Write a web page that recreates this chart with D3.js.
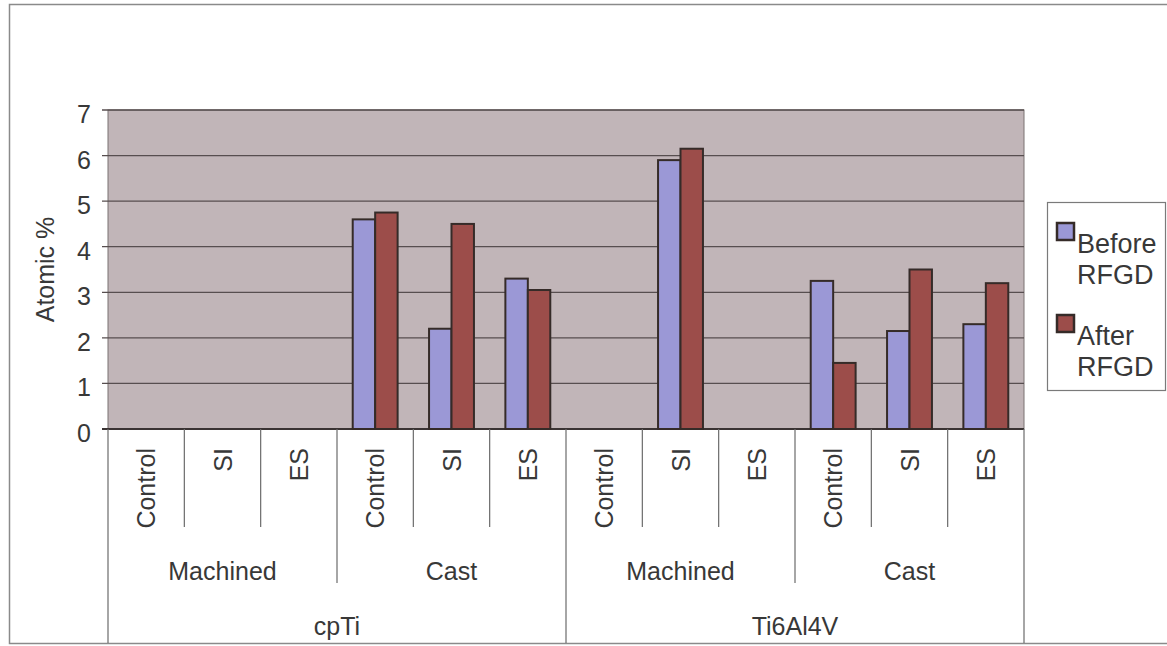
<!doctype html>
<html lang="en">
<head>
	<meta charset="UTF-8">
	<title>Atomic % before and after RFGD</title>
	<style>
		html, body {
			margin: 0;
			padding: 0;
			background: #fff;
		}

		svg text {
			font-family: "Liberation Sans", Arial, sans-serif;
			fill: #383838;
		}

		.tick__label,
		.cat__label,
		.group__label,
		.axis__title {
			font-size: 25px;
		}

		.legend__label {
			font-size: 27px;
		}
	</style>
</head>
<body>
	<script src="https://cdnjs.cloudflare.com/ajax/libs/d3/7.8.5/d3.min.js"></script>
	<script>
		// categories, outermost level first
		var materials = ['cpTi', 'Ti6Al4V'];
		var surfaces = ['Machined', 'Cast'];
		var treatments = ['Control', 'SI', 'ES'];

		// series values, one per treatment (null = no bar)
		var beforeValues = [null, null, null, 4.6, 2.2, 3.3, null, 5.9, null, 3.25, 2.15, 2.3];
		var afterValues = [null, null, null, 4.75, 4.5, 3.05, null, 6.15, null, 1.45, 3.5, 3.2];

		var seriesNames = ['Before RFGD', 'After RFGD'];
		var yTicks = [0, 1, 2, 3, 4, 5, 6, 7];

		var w = 1167,
			h = 646,
			plotLeft = 108,
			plotRight = 1024,
			plotTop = 110,
			plotBottom = 429;

		var colors = ['#9b98d6', '#9c4d4a'];

		var svg = d3.select('body')
			.append('svg')
			.attr('width', w)
			.attr('height', h);

		var categories = [];
		materials.forEach(function(m) {
			surfaces.forEach(function(s) {
				treatments.forEach(function(t) {
					categories.push({material: m, surface: s, treatment: t});
				});
			});
		});

		var xScale = d3.scaleBand()
			.domain(d3.range(categories.length))
			.range([plotLeft, plotRight]);

		var seriesScale = d3.scaleBand()
			.domain(d3.range(seriesNames.length))
			.range([0, xScale.bandwidth()])
			.paddingInner(0)
			.paddingOuter(0.7);

		var yScale = d3.scaleLinear()
			.domain([0, 7])
			.range([plotBottom, plotTop]);


		/**
		* outer frame of the chart
		*/
		var drawFrame = function() {
			svg.append('rect')
				.attr('x', 9.5)
				.attr('y', 4.5)
				.attr('width', w)
				.attr('height', 639)
				.attr('fill', 'none')
				.attr('stroke', '#8a8a8a')
				.attr('stroke-width', 1.5);
		};


		/**
		* plot area, gridlines and y axis
		*/
		var drawPlot = function() {
			svg.append('rect')
				.attr('x', plotLeft)
				.attr('y', plotTop)
				.attr('width', plotRight - plotLeft)
				.attr('height', plotBottom - plotTop)
				.attr('fill', '#c1b5b8')
				.attr('stroke', '#7a7272')
				.attr('stroke-width', 1);

			svg.selectAll('.grid')
				.data(yTicks)
				.enter()
				.append('line')
				.attr('class', 'grid')
				.attr('x1', plotLeft - 6)
				.attr('x2', plotRight)
				.attr('y1', function(d) { return yScale(d); })
				.attr('y2', function(d) { return yScale(d); })
				.attr('stroke', function(d) { return d === 0 ? '#3a3333' : '#574e4f'; })
				.attr('stroke-width', function(d) { return d === 0 ? 1.8 : 1.3; });

			svg.selectAll('.tick__label')
				.data(yTicks)
				.enter()
				.append('text')
				.attr('class', 'tick__label')
				.attr('x', 91)
				.attr('y', function(d) { return yScale(d) + 13; })
				.attr('text-anchor', 'end')
				.text(function(d) { return d; });

			svg.append('text')
				.attr('class', 'axis__title')
				.attr('transform', 'translate(54,' + ((plotTop + plotBottom) / 2) + ') rotate(-90)')
				.attr('text-anchor', 'middle')
				.text('Atomic %');
		};


		/**
		* bars for both series
		*/
		var drawBars = function() {
			var series = [beforeValues, afterValues];
			series.forEach(function(values, s) {
				svg.selectAll('.bar-' + s)
					.data(values.map(function(v, i) { return {v: v, i: i}; })
						.filter(function(d) { return d.v !== null; }))
					.enter()
					.append('rect')
					.attr('class', 'bar-' + s)
					.attr('x', function(d) { return xScale(d.i) + seriesScale(s); })
					.attr('y', function(d) { return yScale(d.v); })
					.attr('width', seriesScale.bandwidth())
					.attr('height', function(d) { return yScale(0) - yScale(d.v); })
					.attr('fill', colors[s])
					.attr('stroke', '#352b28')
					.attr('stroke-width', 2);
			});
		};


		/**
		* three level category axis
		*/
		var drawCategoryAxis = function() {
			var lineBottoms = [527, 583, 643];
			var step = xScale.step();

			// dividers: left edge of each category, length by level of the boundary
			var bounds = d3.range(categories.length + 1).map(function(i) {
				var level = 0;
				if (i % treatments.length === 0) level = 1;
				if (i % (treatments.length * surfaces.length) === 0) level = 2;
				return {x: plotLeft + i * step, level: level};
			});

			svg.selectAll('.divider')
				.data(bounds)
				.enter()
				.append('line')
				.attr('class', 'divider')
				.attr('x1', function(d) { return d.x; })
				.attr('x2', function(d) { return d.x; })
				.attr('y1', plotBottom)
				.attr('y2', function(d) { return lineBottoms[d.level]; })
				.attr('stroke', '#6b6b6b')
				.attr('stroke-width', 1.2);

			svg.selectAll('.cat__label')
				.data(categories)
				.enter()
				.append('text')
				.attr('class', 'cat__label')
				.attr('text-anchor', 'end')
				.attr('transform', function(d, i) {
					var cx = xScale(i) + xScale.bandwidth() / 2 + 9;
					return 'translate(' + cx + ',448) rotate(-90)';
				})
				.text(function(d) { return d.treatment; });

			var surfaceGroups = [];
			materials.forEach(function(m, mi) {
				surfaces.forEach(function(s, si) {
					surfaceGroups.push({name: s, index: mi * surfaces.length + si});
				});
			});
			var groupW = step * treatments.length;

			svg.selectAll('.surface')
				.data(surfaceGroups)
				.enter()
				.append('text')
				.attr('class', 'group__label surface')
				.attr('text-anchor', 'middle')
				.attr('x', function(d) { return plotLeft + d.index * groupW + groupW / 2; })
				.attr('y', 580)
				.text(function(d) { return d.name; });

			var matW = groupW * surfaces.length;
			svg.selectAll('.material')
				.data(materials)
				.enter()
				.append('text')
				.attr('class', 'group__label material')
				.attr('text-anchor', 'middle')
				.attr('x', function(d, i) { return plotLeft + i * matW + matW / 2; })
				.attr('y', 635)
				.text(function(d) { return d; });
		};


		/**
		* legend box on the right
		*/
		var drawLegend = function() {
			var g = svg.append('g')
				.attr('transform', 'translate(1047,202)');

			g.append('rect')
				.attr('x', 0.5)
				.attr('y', 0.5)
				.attr('width', 118)
				.attr('height', 188)
				.attr('fill', '#fff')
				.attr('stroke', '#7a7a7a')
				.attr('stroke-width', 1.2);

			var items = g.selectAll('.legend__item')
				.data(seriesNames)
				.enter()
				.append('g')
				.attr('class', 'legend__item')
				.attr('transform', function(d, i) { return 'translate(10,' + (21 + i * 92) + ')'; });

			items.append('rect')
				.attr('width', 17)
				.attr('height', 17)
				.attr('fill', function(d, i) { return colors[i]; })
				.attr('stroke', '#352b28')
				.attr('stroke-width', 2.5);

			items.append('text')
				.attr('class', 'legend__label')
				.attr('x', 20)
				.attr('y', 30)
				.text(function(d) { return d.split(' ')[0]; });

			items.append('text')
				.attr('class', 'legend__label')
				.attr('x', 20)
				.attr('y', 61)
				.text(function(d) { return d.split(' ')[1]; });
		};


		drawFrame();
		drawPlot();
		drawBars();
		drawCategoryAxis();
		drawLegend();
	</script>
</body>
</html>
